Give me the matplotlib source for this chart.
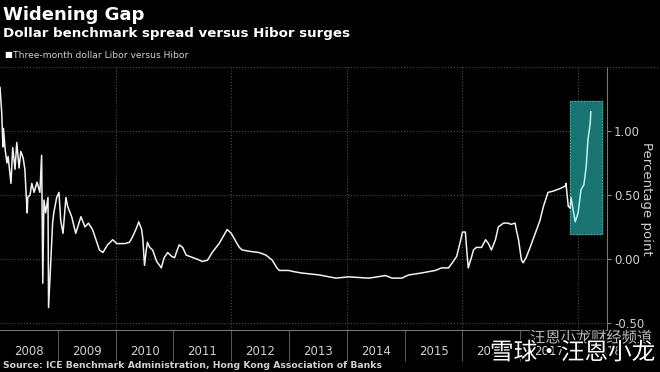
import matplotlib.pyplot as plt
import matplotlib.patheffects as pe
from matplotlib.lines import Line2D
import numpy as np

# spread, (decimal year, percentage point)
years = [2008.00, 2008.03, 2008.05, 2008.06, 2008.09, 2008.12, 2008.14, 2008.19,
         2008.22, 2008.26, 2008.29, 2008.33, 2008.36, 2008.40, 2008.43, 2008.47,
         2008.48, 2008.52, 2008.55, 2008.59, 2008.64, 2008.69, 2008.72, 2008.74,
         2008.76, 2008.79, 2008.83, 2008.84, 2008.88, 2008.91, 2008.93, 2008.98,
         2009.02, 2009.05, 2009.09, 2009.14, 2009.17, 2009.24, 2009.31, 2009.40,
         2009.47, 2009.53, 2009.60, 2009.72, 2009.78, 2009.86, 2009.95, 2010.02,
         2010.07, 2010.16, 2010.24, 2010.29, 2010.36, 2010.40, 2010.45, 2010.47,
         2010.50, 2010.53, 2010.55, 2010.59, 2010.64, 2010.71, 2010.76, 2010.79,
         2010.84, 2010.90, 2010.97, 2011.02, 2011.05, 2011.10, 2011.16, 2011.22,
         2011.28, 2011.40, 2011.50, 2011.59, 2011.67, 2011.79, 2011.88, 2011.93,
         2012.00, 2012.05, 2012.14, 2012.19, 2012.31, 2012.48, 2012.60, 2012.71,
         2012.79, 2012.83, 2012.99, 2013.09, 2013.22, 2013.52, 2013.81, 2014.03,
         2014.38, 2014.67, 2014.78, 2014.95, 2015.07, 2015.29, 2015.41, 2015.53,
         2015.64, 2015.76, 2015.84, 2015.90, 2015.97, 2016.00, 2016.05, 2016.07,
         2016.10, 2016.16, 2016.19, 2016.24, 2016.33, 2016.40, 2016.45, 2016.50,
         2016.57, 2016.62, 2016.71, 2016.79, 2016.84, 2016.91, 2016.93, 2016.97,
         2017.02, 2017.05, 2017.10, 2017.17, 2017.26, 2017.34, 2017.40, 2017.48,
         2017.57, 2017.69, 2017.78, 2017.79, 2017.83, 2017.86]
spread = [1.34, 1.14, 0.875, 1.02, 0.85, 0.75, 0.80, 0.59,
          0.87, 0.70, 0.91, 0.71, 0.84, 0.79, 0.70, 0.36,
          0.48, 0.50, 0.59, 0.52, 0.60, 0.52, 0.81, -0.19,
          0.46, 0.36, 0.48, -0.38, -0.01, 0.28, 0.36, 0.48,
          0.52, 0.30, 0.20, 0.48, 0.41, 0.33, 0.20, 0.33,
          0.25, 0.28, 0.23, 0.07, 0.05, 0.11, 0.15, 0.12,
          0.12, 0.12, 0.13, 0.17, 0.24, 0.29, 0.23, 0.16,
          -0.05, 0.07, 0.13, 0.09, 0.07, -0.02, -0.05, -0.07,
          0.01, 0.05, 0.02, 0.01, 0.05, 0.11, 0.09, 0.03,
          0.02, 0.00, -0.02, -0.01, 0.05, 0.12, 0.19, 0.23,
          0.20, 0.16, 0.09, 0.07, 0.06, 0.05, 0.03, -0.01,
          -0.07, -0.09, -0.09, -0.10, -0.11, -0.125, -0.15, -0.14,
          -0.15, -0.13, -0.15, -0.15, -0.125, -0.11, -0.10, -0.09,
          -0.07, -0.07, -0.02, 0.02, 0.15, 0.21, 0.21, 0.09,
          -0.07, 0.02, 0.07, 0.09, 0.09, 0.15, 0.12, 0.07,
          0.15, 0.25, 0.28, 0.28, 0.27, 0.28, 0.23, 0.15,
          -0.01, -0.03, 0.01, 0.09, 0.20, 0.30, 0.41, 0.52,
          0.53, 0.55, 0.57, 0.59, 0.41, 0.40]
# highlighted part (2018 surge)
years_hl = [2017.86, 2017.88, 2017.90, 2017.95, 2018.00, 2018.05, 2018.10,
            2018.14, 2018.17, 2018.21, 2018.22]
spread_hl = [0.40, 0.48, 0.42, 0.29, 0.36, 0.54, 0.58, 0.72, 0.93, 1.06, 1.15]

year_labels = list(range(2008, 2019))
yticks = [-0.5, 0.0, 0.5, 1.0]

grid_c = '#4a4a4a'
txt_c = '#d0d0d0'

fig = plt.figure(figsize=(6.6, 3.72), dpi=100, facecolor='black')
ax = fig.add_axes([0.0, 0.113, 607 / 660, 0.707])
ax.set_facecolor('black')

# highlight box
ax.fill_between([2017.86, 2018.41], 0.195, 1.234, color='#187371', zorder=1)
ax.plot([2017.86, 2018.41, 2018.41, 2017.86, 2017.86],
        [0.195, 0.195, 1.234, 1.234, 0.195], ls=':', lw=0.8, color='#5fb5b0', zorder=2)

ax.plot(years, spread, color='#f2f2f2', lw=1.1, zorder=3)
ax.plot(years_hl, spread_hl, color='#b8f4ef', lw=1.1, zorder=3)

ax.set_xlim(2008.0, 2018.47)
ax.set_ylim(-0.555, 1.5)

for y in yticks:
    ax.axhline(y, color=grid_c, lw=0.8, ls=':', zorder=0)
for x in [2010, 2012, 2014, 2016, 2018]:
    ax.axvline(x, color=grid_c, lw=0.8, ls=':', zorder=0)

ax.yaxis.tick_right()
ax.set_yticks(yticks)
ax.set_yticklabels(['%.2f' % v if v >= 0 else '-%.2f' % abs(v) for v in yticks])
ax.tick_params(axis='y', colors='#888888', labelcolor=txt_c, labelsize=8.5,
               length=3, pad=2)
ax.yaxis.set_label_position('right')
ax.set_ylabel('Percentage point', color=txt_c, fontsize=9.5, rotation=270, labelpad=6)

ax.set_xticks([y + 0.5 for y in year_labels])
ax.set_xticklabels([str(y) for y in year_labels])
ax.set_xticks(list(range(2009, 2019)), minor=True)
ax.tick_params(axis='x', which='major', length=0, pad=11, labelsize=8.5, labelcolor=txt_c)
ax.tick_params(axis='x', which='minor', length=22, width=0.8, color='#555555')

for s in ['left', 'top']:
    ax.spines[s].set_visible(False)
ax.spines['bottom'].set_color('#777777')
ax.spines['right'].set_color('#777777')

# dotted line under the legend
fig.add_artist(Line2D([0, 1], [1 - 67 / 372] * 2, color=grid_c, lw=0.8, ls=':'))

fig.text(0.004, 1 - 15 / 372, 'Widening Gap', color='white', fontsize=13,
         fontweight='bold', va='center')
fig.text(0.004, 1 - 33 / 372, 'Dollar benchmark spread versus Hibor surges',
         color='white', fontsize=9.6, fontweight='bold', va='center')
fig.text(0.006, 1 - 55 / 372, '\u25a0', color='white', fontsize=6, va='center')
fig.text(0.02, 1 - 55 / 372, 'Three-month dollar Libor versus Hibor',
         color=txt_c, fontsize=6.6, va='center')
fig.text(0.004, 1 - 366 / 372,
         'Source: ICE Benchmark Administration, Hong Kong Association of Banks',
         color=txt_c, fontsize=6.7, fontweight='bold', va='center')

# watermark overlay
wm = [pe.withStroke(linewidth=2, foreground='black')]
fig.text(530 / 660, 1 - 338 / 372, '汪恩小龙财经频道', color='#bbbbbb', fontsize=11,
         family=['Noto Sans CJK SC', 'DejaVu Sans'], va='center', path_effects=wm)
fig.text(490 / 660, 1 - 353 / 372, '雪球·汪恩小龙', color='white', fontsize=17,
         family=['Noto Sans CJK SC', 'DejaVu Sans'], va='center', path_effects=wm)

fig.savefig('out.png', dpi=100, facecolor='black')
